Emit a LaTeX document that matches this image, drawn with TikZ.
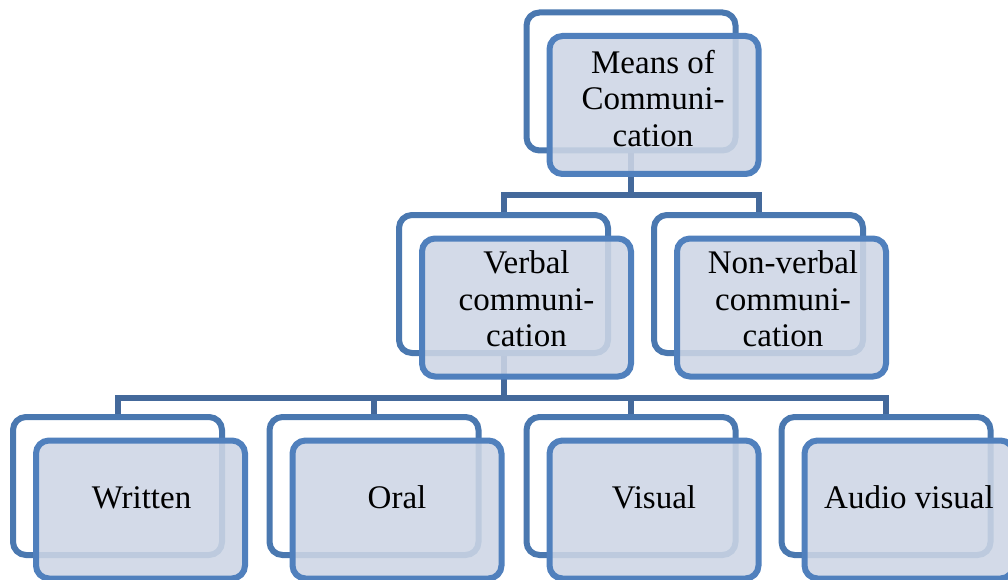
\documentclass[tikz,border=0pt]{standalone}
\usepackage{fontspec}
\setmainfont{Liberation Serif}
\definecolor{backblue}{HTML}{4A78B0}
\definecolor{frontblue}{HTML}{5080BD}
\definecolor{linkblue}{HTML}{44699B}
\definecolor{frontfill}{HTML}{CDD6E5}
\tikzset{
  card/.style={rectangle, rounded corners=13pt, line width=6pt,
    minimum width=209pt, minimum height=138pt, inner sep=0pt},
  backcard/.style={card, draw=backblue, fill=white},
  frontcard/.style={card, draw=frontblue, fill=frontfill, fill opacity=0.88, draw opacity=1},
  link/.style={draw=linkblue, line width=6pt},
  caption/.style={inner sep=0pt, align=center, text=black,
    font=\fontsize{33}{36.5}\selectfont}
}
\begin{document}
\begin{tikzpicture}[x=1pt, y=-1pt]
  \clip (0,0) rectangle (1008,580);
  \fill[white] (0,0) rectangle (1008,580);

  % back cards
  \node[backcard] (mb) at (631,81.5) {};
  \node[backcard] (vb) at (503.5,284) {};
  \node[backcard] (nb) at (758.5,284) {};
  \node[backcard] (wb) at (117.5,486) {};
  \node[backcard] (ob) at (374,486) {};
  \node[backcard] (sb) at (631,486) {};
  \node[backcard] (ab) at (886,486) {};

  % tree connectors
  \coordinate (hubA) at (631,195);
  \coordinate (hubB) at (503.5,398);
  \draw[link] (mb.south) -- (hubA);
  \draw[link] (vb.north) |- (hubA) -| (nb.north);
  \draw[link] (vb.south) -- (hubB);
  \draw[link] (wb.north) |- (hubB) -| (ab.north);
  \draw[link] (hubB) -| (ob.north);
  \draw[link] (hubB) -| (sb.north);

  % front cards
  \node[frontcard] (mf) at (654,105) {};
  \node[frontcard] (vf) at (526.5,307.5) {};
  \node[frontcard] (nf) at (781.5,307.5) {};
  \node[frontcard] (wf) at (140.5,509.5) {};
  \node[frontcard] (of) at (397,509.5) {};
  \node[frontcard] (sf) at (654,509.5) {};
  \node[frontcard] (af) at (909,509.5) {};

  % captions
  \node[caption] (mt) at ([shift={(-1,-6.5)}]mf.center) {Means of\\Communi-\\cation};
  \node[caption] (vt) at ([shift={(0,-8.5)}]vf.center) {Verbal\\communi-\\cation};
  \node[caption] (nt) at ([shift={(1.5,-8.5)}]nf.center) {Non-verbal\\communi-\\cation};
  \node[caption] (wt) at ([shift={(1,-12)}]wf.center) {Written};
  \node[caption] (ot) at ([shift={(0,-12)}]of.center) {Oral};
  \node[caption] (st) at ([shift={(0,-12)}]sf.center) {Visual};
  \node[caption] (at) at ([shift={(0,-12)}]af.center) {Audio visual};
\end{tikzpicture}
\end{document}
